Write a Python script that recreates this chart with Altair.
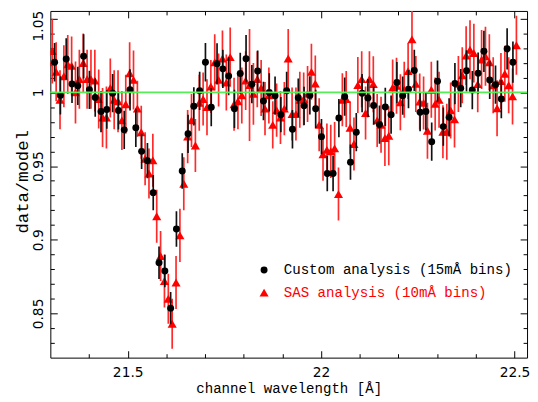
import altair as alt
import pandas as pd

# ---------------- data ----------------
# Custom analysis, 15 mÅ bins (black circles)
black_start = 21.311
black_bin = 0.015
black_y = [
    1.0205, 0.998, 1.0227, 1.0058, 1.0045, 1.0245, 1.0018, 0.9965, 0.987, 0.9884,
    0.9995, 0.9878, 0.9746, 1.0018, 0.976, 0.960, 0.9537, 0.932, 0.8844, 0.8788,
    0.8536, 0.9073, 0.9467, 0.9719, 0.9906, 1.0011, 1.0205, 0.990, 1.0194, 1.016,
    1.0111, 0.9889, 1.0129, 1.0229, 1.0056, 1.0145, 0.9942, 1.0000, 0.9978, 0.9849,
    1.0011, 0.975, 0.9964, 0.9909, 0.998, 0.9889, 0.970, 0.945, 0.945, 0.9826,
    0.9971, 0.9527, 0.973, 0.9995, 0.9962, 0.9911, 0.9782, 0.9902, 0.9849, 1.0067,
    0.9978, 1.0022, 1.0149, 0.9866, 0.9871, 0.9666, 1.0076, 0.9768, 0.9831, 1.006,
    1.0029, 1.0147, 1.0016, 1.0131, 1.0279, 1.0085, 1.0053, 0.9955, 1.0296, 1.0205,
]
black_err = [
    0.013, 0.013, 0.014, 0.013, 0.013, 0.015, 0.013, 0.013, 0.014, 0.013,
    0.013, 0.013, 0.013, 0.014, 0.013, 0.012, 0.012, 0.012, 0.011, 0.011,
    0.011, 0.012, 0.012, 0.013, 0.013, 0.013, 0.013, 0.013, 0.014, 0.013,
    0.013, 0.013, 0.014, 0.016, 0.013, 0.014, 0.013, 0.013, 0.013, 0.012,
    0.013, 0.013, 0.013, 0.013, 0.013, 0.013, 0.012, 0.012, 0.012, 0.013,
    0.013, 0.012, 0.013, 0.013, 0.013, 0.013, 0.013, 0.013, 0.013, 0.014,
    0.013, 0.013, 0.014, 0.013, 0.013, 0.013, 0.014, 0.013, 0.013, 0.014,
    0.013, 0.014, 0.013, 0.014, 0.014, 0.013, 0.013, 0.013, 0.014, 0.014,
]

# SAS analysis, 10 mÅ bins (red triangles)
red_start = 21.295
red_bin = 0.010
red_y = [
    1.0205, 1.028, 1.014, 0.995, 1.011, 1.019, 1.018, 1.000, 1.009, 1.020,
    1.009, 1.009, 1.008, 0.9955, 0.983, 0.983, 1.003, 0.995, 0.994, 0.981,
    0.992, 1.013, 1.0085, 0.989, 0.973, 0.955, 0.945, 0.954, 0.916, 0.889,
    0.872, 0.860, 0.843, 0.871, 0.903, 0.938, 0.970, 0.981, 0.964, 0.993,
    0.9955, 0.990, 1.004, 1.0205, 1.0085, 1.023, 1.0067, 1.024, 0.992, 0.994,
    0.998, 1.008, 1.005, 0.999, 1.009, 1.003, 0.989, 0.998, 0.978, 0.988,
    0.983, 0.989, 1.023, 0.9853, 0.9853, 0.995, 0.9955, 0.999, 1.014, 1.006,
    0.978, 0.958, 0.961, 0.960, 0.962, 0.931, 0.995, 0.9955, 0.976, 0.965,
    1.005, 1.009, 0.986, 1.009, 1.0056, 0.981, 0.978, 0.969, 0.9706, 1.0033,
    1.0045, 0.9933, 1.0018, 1.0145, 1.036, 1.0058, 0.9938, 0.9929, 0.974, 1.0018,
    0.9922, 0.995, 0.9733, 0.9733, 0.9878, 0.9817, 1.0058, 1.0116, 1.025, 1.029,
    1.0267, 1.0056, 1.0223, 1.0245, 1.0205, 1.0049, 0.9893, 1.0078, 1.0127, 1.0049,
    0.9973, 1.032,
]
red_err = [
    0.020, 0.022, 0.020, 0.020, 0.021, 0.020, 0.020, 0.021, 0.020, 0.020,
    0.020, 0.020, 0.021, 0.020, 0.020, 0.021, 0.020, 0.020, 0.021, 0.020,
    0.020, 0.021, 0.020, 0.019, 0.018, 0.018, 0.017, 0.018, 0.018, 0.017,
    0.018, 0.017, 0.017, 0.018, 0.018, 0.018, 0.018, 0.018, 0.018, 0.019,
    0.018, 0.019, 0.018, 0.019, 0.018, 0.019, 0.019, 0.020, 0.018, 0.019,
    0.019, 0.020, 0.038, 0.021, 0.019, 0.019, 0.018, 0.019, 0.016, 0.018,
    0.018, 0.018, 0.020, 0.018, 0.018, 0.019, 0.018, 0.019, 0.019, 0.019,
    0.018, 0.018, 0.018, 0.018, 0.018, 0.018, 0.018, 0.019, 0.018, 0.018,
    0.019, 0.019, 0.018, 0.019, 0.019, 0.018, 0.019, 0.019, 0.020, 0.019,
    0.019, 0.019, 0.019, 0.019, 0.022, 0.019, 0.019, 0.018, 0.019, 0.019,
    0.018, 0.019, 0.018, 0.019, 0.019, 0.019, 0.019, 0.019, 0.020, 0.020,
    0.020, 0.019, 0.020, 0.020, 0.019, 0.019, 0.019, 0.019, 0.019, 0.019,
    0.019, 0.020,
]

reference_level = [1.0]

x_major_ticks = [21.5, 22.0, 22.5]
x_minor_ticks = [21.4, 21.5, 21.6, 21.7, 21.8, 21.9, 22.0, 22.1, 22.2, 22.3, 22.4, 22.5]
y_major_ticks = [0.85, 0.9, 0.95, 1.0, 1.05]
y_minor_ticks = [0.83, 0.84, 0.85, 0.86, 0.87, 0.88, 0.89, 0.9, 0.91, 0.92, 0.93, 0.94,
                 0.95, 0.96, 0.97, 0.98, 0.99, 1.0, 1.01, 1.02, 1.03, 1.04, 1.05]

legend_labels = ["Custom analysis (15mÅ bins)", "SAS analysis (10mÅ bins)"]
x_title = "channel wavelength [Å]"
y_title = "data/model"

# ---------------- tables ----------------
black_df = pd.DataFrame({
    "x": [black_start + black_bin * i for i in range(len(black_y))],
    "y": black_y,
    "err": black_err,
})
black_df["lo"] = black_df["y"] - black_df["err"]
black_df["hi"] = black_df["y"] + black_df["err"]

red_df = pd.DataFrame({
    "x": [red_start + red_bin * i for i in range(len(red_y))],
    "y": red_y,
    "err": red_err,
})
red_df["lo"] = red_df["y"] - red_df["err"]
red_df["hi"] = red_df["y"] + red_df["err"]

# ---------------- layout ----------------
W, H = 484, 352
xscale = alt.Scale(domain=[21.3, 22.5325], nice=False, zero=False)
yscale = alt.Scale(domain=[0.82, 1.0553], nice=False, zero=False)

LAB_FONT = "DejaVu Sans"
TTL_FONT = "Liberation Mono"
MAJ_X = "abs(datum.value*2 - round(datum.value*2)) < 0.01"
MAJ_Y = "abs(datum.value*20 - round(datum.value*20)) < 0.01"

x_label_axis = alt.Axis(
    orient="bottom", values=x_major_ticks, format="~g", ticks=False, tickSize=0,
    domain=False, grid=False, labelFont=LAB_FONT, labelFontSize=14, labelColor="black",
    labelPadding=19, labelBaseline="alphabetic", labelAlign="center", labelOverlap=False,
    labelFlush=False,
    title=x_title, titleFont=TTL_FONT, titleFontSize=14.3, titleFontWeight="normal",
    titleColor="black", titleX=W / 2, titleY=35, titleAlign="center",
    titleBaseline="alphabetic",
)
y_label_axis = alt.Axis(
    orient="left", values=y_major_ticks, format="~g", ticks=False, tickSize=0,
    domain=False, grid=False, labelFont=LAB_FONT, labelFontSize=14, labelColor="black",
    labelAngle=270, labelAlign="center", labelBaseline="alphabetic", labelPadding=8,
    labelOffset={"condition": {"test": "datum.value > 1.04", "value": 7}, "value": 0},
    labelOverlap=False, labelFlush=False,
    title=y_title, titleFont=TTL_FONT, titleFontSize=17.5, titleFontWeight="normal",
    titleColor="black", titleAngle=270, titleX=-23, titleY=H / 2 - 3,
    titleAlign="center", titleBaseline="alphabetic",
)


def tick_axis(orient, values, test, offset):
    return alt.Axis(
        orient=orient, offset=offset, values=values, labels=False, grid=False, title="",
        domain=True, domainColor="black", domainWidth=1, ticks=True, tickColor="black",
        tickWidth=1,
        tickSize={"condition": {"test": test, "value": 7}, "value": 4},
    )


x_ticks_bottom = tick_axis("top", x_minor_ticks, MAJ_X, -H)
x_ticks_top = tick_axis("bottom", x_minor_ticks, MAJ_X, -H)
y_ticks_left = tick_axis("right", y_minor_ticks, MAJ_Y, -W)
y_ticks_right = tick_axis("left", y_minor_ticks, MAJ_Y, -W)

RED = "#ff0000"

green = alt.Chart(pd.DataFrame({"y": reference_level})).mark_rule(
    color="#55ee55", strokeWidth=1.8
).encode(y=alt.Y("y:Q", scale=yscale, axis=None))

red_bars = alt.Chart(red_df).mark_rule(color="#ff2a2a", strokeWidth=1.7, clip=True).encode(
    x=alt.X("x:Q", scale=xscale, axis=x_label_axis),
    y=alt.Y("lo:Q", scale=yscale, axis=y_label_axis),
    y2="hi:Q",
)
red_pts = alt.Chart(red_df).mark_point(
    shape="triangle-up", filled=True, color=RED, size=85, opacity=1, clip=True
).encode(
    x=alt.X("x:Q", scale=xscale, axis=x_ticks_bottom),
    y=alt.Y("y:Q", scale=yscale, axis=y_ticks_left),
)
black_bars = alt.Chart(black_df).mark_rule(color="#111111", strokeWidth=1.7, clip=True).encode(
    x=alt.X("x:Q", scale=xscale, axis=x_ticks_top),
    y=alt.Y("lo:Q", scale=yscale, axis=y_ticks_right),
    y2="hi:Q",
)
black_pts = alt.Chart(black_df).mark_circle(color="black", size=50, opacity=1, clip=True).encode(
    x=alt.X("x:Q", scale=xscale, axis=None),
    y=alt.Y("y:Q", scale=yscale, axis=None),
)

leg1_df = pd.DataFrame({"label": [legend_labels[0]]})
leg2_df = pd.DataFrame({"label": [legend_labels[1]]})
leg1_sym = alt.Chart(leg1_df).mark_circle(color="black", size=50, opacity=1).encode(
    x=alt.value(217), y=alt.value(263))
leg1_txt = alt.Chart(leg1_df).mark_text(
    align="left", baseline="middle", font=TTL_FONT, fontSize=14.3, color="black"
).encode(x=alt.value(237), y=alt.value(263), text="label:N")
leg2_sym = alt.Chart(leg2_df).mark_point(
    shape="triangle-up", filled=True, color=RED, size=85, opacity=1
).encode(x=alt.value(217), y=alt.value(286))
leg2_txt = alt.Chart(leg2_df).mark_text(
    align="left", baseline="middle", font=TTL_FONT, fontSize=14.3, color=RED
).encode(x=alt.value(237), y=alt.value(286), text="label:N")

chart = alt.layer(
    red_bars, red_pts, black_bars, black_pts, green,
    leg1_sym, leg1_txt, leg2_sym, leg2_txt,
).resolve_axis(x="independent", y="independent").properties(
    width=W, height=H,
    autosize=alt.AutoSizeParams(type="none"),
    padding={"left": 43, "top": 0, "right": 3, "bottom": 40},
    background="white",
).configure_view(stroke=None)

chart.save("out.html", embed_options={"renderer": "svg", "actions": False})
